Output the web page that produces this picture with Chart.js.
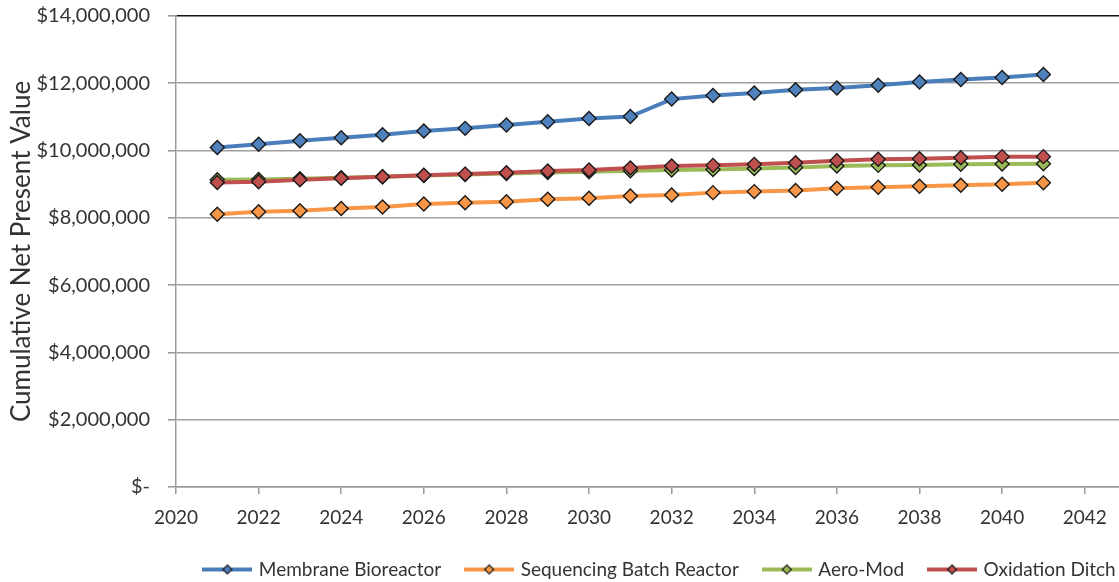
<!DOCTYPE html>
<html>
<head>
<meta charset="utf-8">
<script src="https://cdn.jsdelivr.net/npm/chart.js@4.4.1/dist/chart.umd.min.js"></script>
<style>
  html, body { margin: 0; padding: 0; background: #fff; }
  #wrap { width: 1119px; height: 582px; position: relative; }
</style>
</head>
<body>
<div id="wrap"><canvas id="c" width="1119" height="582"></canvas></div>
<script>
// ---- data ----
const years = [2021, 2022, 2023, 2024, 2025, 2026, 2027, 2028, 2029, 2030, 2031,
               2032, 2033, 2034, 2035, 2036, 2037, 2038, 2039, 2040, 2041];
const membraneBioreactor = [10090000, 10190000, 10290000, 10380000, 10470000, 10580000, 10660000, 10760000, 10860000, 10950000, 11010000,
                            11530000, 11640000, 11710000, 11810000, 11860000, 11940000, 12040000, 12110000, 12170000, 12260000];
const sequencingBatchReactor = [8110000, 8180000, 8210000, 8280000, 8320000, 8410000, 8450000, 8480000, 8550000, 8580000, 8650000,
                                8680000, 8750000, 8780000, 8810000, 8880000, 8910000, 8940000, 8970000, 9000000, 9040000];
const aeroMod = [9130000, 9140000, 9160000, 9190000, 9220000, 9260000, 9290000, 9320000, 9350000, 9370000, 9400000,
                 9420000, 9440000, 9470000, 9500000, 9540000, 9560000, 9570000, 9590000, 9600000, 9610000];
const oxidationDitch = [9050000, 9070000, 9130000, 9180000, 9220000, 9270000, 9300000, 9340000, 9390000, 9420000, 9480000,
                        9540000, 9560000, 9590000, 9640000, 9700000, 9740000, 9760000, 9790000, 9820000, 9820000];
const seriesNames = ['Membrane Bioreactor', 'Sequencing Batch Reactor', 'Aero-Mod', 'Oxidation Ditch'];
const yTickValues = [0, 2000000, 4000000, 6000000, 8000000, 10000000, 12000000, 14000000];
const xTickStep = 2;

const lineColors = ['#4A7EBB', '#F79646', '#9BBB59', '#C0504D'];
const fillColors = ['#4F81BD', '#F79646', '#9BBB59', '#C0504D'];
const FONT = 'Lato, "Open Sans", sans-serif';
const TEXT = '#333333';

function pts(vals) { return years.map((y, i) => ({ x: y, y: vals[i] })); }

function legendImage(i) {
  const c = document.createElement('canvas');
  c.width = 50; c.height = 14;
  const g = c.getContext('2d');
  g.strokeStyle = lineColors[i];
  g.lineWidth = 4;
  g.beginPath(); g.moveTo(0, 7); g.lineTo(50, 7); g.stroke();
  g.beginPath();
  g.moveTo(25, 2.5); g.lineTo(29.5, 7); g.lineTo(25, 11.5); g.lineTo(20.5, 7); g.closePath();
  g.fillStyle = fillColors[i]; g.fill();
  g.strokeStyle = '#1a1a1a'; g.lineWidth = 1.2; g.stroke();
  return c;
}
const legendImgs = [0, 1, 2, 3].map(legendImage);

function ds(idx, vals) {
  return {
    label: seriesNames[idx],
    data: pts(vals),
    borderColor: lineColors[idx],
    backgroundColor: fillColors[idx],
    borderWidth: 4,
    tension: 0,
    pointStyle: 'rectRot',
    pointRadius: 7,
    pointHoverRadius: 7,
    pointBackgroundColor: fillColors[idx],
    pointBorderColor: '#1a1a1a',
    pointBorderWidth: 1.4,
    _idx: idx
  };
}

// draw order: later series on top (first dataset is drawn last in Chart.js)
const datasets = [ds(3, oxidationDitch), ds(2, aeroMod), ds(1, sequencingBatchReactor), ds(0, membraneBioreactor)];

const legendPlace = {
  id: 'legendPlace',
  beforeDraw(chart) {
    const lg = chart.legend;
    if (!lg) return;
    const h = lg.bottom - lg.top;
    lg.left = 170; lg.right = 1151;
    lg.top = 534; lg.bottom = 534 + h;
  }
};

new Chart(document.getElementById('c'), {
  type: 'line',
  data: { datasets },
  plugins: [legendPlace],
  options: {
    responsive: false,
    animation: false,
    events: [],
    layout: { autoPadding: false, padding: { top: 16, left: 0, right: 0, bottom: 0 } },
    plugins: {
      tooltip: { enabled: false },
      legend: {
        position: 'bottom',
        align: 'center',
        reverse: true,
        labels: {
          usePointStyle: true,
          pointStyleWidth: 44,
          padding: 26,
          color: TEXT,
          font: { family: FONT, size: 19 },
          generateLabels(chart) {
            const items = Chart.defaults.plugins.legend.labels.generateLabels(chart);
            items.forEach(it => {
              const d = chart.data.datasets[it.datasetIndex];
              it.pointStyle = legendImgs[d._idx];
            });
            return items;
          }
        }
      }
    },
    scales: {
      x: {
        type: 'linear',
        min: 2020,
        max: 2042.83,
        afterFit(scale) { scale.height = 40; scale.paddingLeft = 0; scale.paddingRight = 0; },
        ticks: {
          stepSize: xTickStep,
          includeBounds: false,
          padding: 12,
          maxRotation: 0,
          color: TEXT,
          font: { family: FONT, size: 19 },
          callback: v => String(v)
        },
        grid: { drawOnChartArea: false, drawTicks: true, tickLength: 7, color: '#9a9a9a', lineWidth: 1.5 },
        border: { display: true, color: '#9a9a9a', width: 1.5 }
      },
      y: {
        min: 0,
        max: 14000000,
        afterFit(scale) { scale.width = 176; scale.paddingTop = 0; scale.paddingBottom = 0; },
        afterBuildTicks(scale) { scale.ticks = yTickValues.map(v => ({ value: v })); },
        ticks: {
          padding: 18,
          color: TEXT,
          font: { family: FONT, size: 20 },
          callback: v => v === 0 ? '$-' : '$' + Number(v).toLocaleString('en-US')
        },
        grid: {
          drawTicks: true,
          tickLength: 8,
          tickColor: '#9a9a9a',
          color: ctx => (ctx.tick && ctx.tick.value === 14000000) ? '#111111' : '#a0a0a0',
          lineWidth: 1.6
        },
        border: { display: true, color: '#9a9a9a', width: 1.5 },
        title: {
          display: true,
          text: 'Cumulative Net Present Value',
          color: TEXT,
          font: { family: FONT, size: 26 },
          padding: { top: 6, bottom: 0 }
        }
      }
    }
  }
});
</script>
</body>
</html>
